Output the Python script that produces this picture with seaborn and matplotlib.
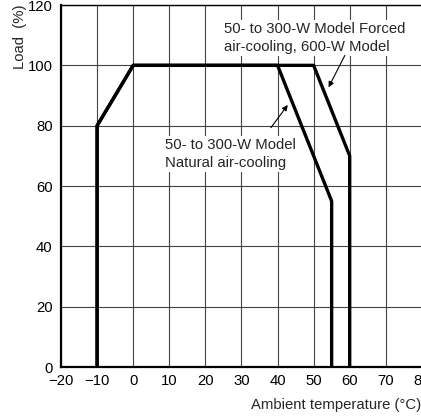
import matplotlib
matplotlib.use("Agg")
import matplotlib.pyplot as plt
import pandas as pd
import seaborn as sns

# Derating curves
natural_temp = [-10, -10, 0, 40, 55, 55]
natural_load = [0, 80, 100, 100, 55, 0]
forced_temp = [-10, -10, 0, 50, 60, 60]
forced_load = [0, 80, 100, 100, 70, 0]

x_ticks = [-20, -10, 0, 10, 20, 30, 40, 50, 60, 70, 80]
y_ticks = [0, 20, 40, 60, 80, 100, 120]

df = pd.concat(
    [
        pd.DataFrame({"temp": natural_temp, "load": natural_load, "mode": "natural"}),
        pd.DataFrame({"temp": forced_temp, "load": forced_load, "mode": "forced"}),
    ],
    ignore_index=True,
)

sns.set_style("white")
plt.rcParams["font.family"] = ["Liberation Sans", "DejaVu Sans"]
fs = 10.7

fig = plt.figure(figsize=(4.21, 4.18), dpi=100)
ax = fig.add_axes([0.145, 0.122, 0.857, 0.866])

ax.set_xlim(-20, 80)
ax.set_ylim(0, 120)
ax.set_xticks(x_ticks)
ax.set_yticks(y_ticks)
ax.grid(True, color="#444444", linewidth=0.8)
ax.set_axisbelow(True)

for mode, sub in df.groupby("mode"):
    sns.lineplot(data=sub, x="temp", y="load", sort=False, estimator=None,
                 color="black", linewidth=2.4, ax=ax, legend=False)

ax.set_xlabel("")
ax.set_ylabel("")
ax.tick_params(axis="both", length=0, labelsize=fs, colors="black")
ax.tick_params(axis="x", pad=5)
ax.tick_params(axis="y", pad=6)

for side in ["left", "bottom"]:
    ax.spines[side].set_linewidth(1.6)
    ax.spines[side].set_color("black")
ax.spines["top"].set_linewidth(1.0)
ax.spines["top"].set_color("black")
ax.spines["right"].set_visible(False)

box = dict(boxstyle="square,pad=0.15", fc="white", ec="none")
ax.text(25.3, 109.1, "50- to 300-W Model Forced\nair-cooling, 600-W Model",
        fontsize=fs, ha="left", va="center", linespacing=1.3, bbox=box, zorder=4)
ax.text(8.7, 70.6, "50- to 300-W Model\nNatural air-cooling",
        fontsize=fs, ha="left", va="center", linespacing=1.3, bbox=box, zorder=4)

ax.annotate("", xy=(53.8, 91.9), xytext=(59.0, 104.1), zorder=5,
            arrowprops=dict(arrowstyle="-|>", color="black", lw=0.8,
                            mutation_scale=8))
ax.annotate("", xy=(43.3, 87.6), xytext=(37.7, 78.6), zorder=5,
            arrowprops=dict(arrowstyle="-|>", color="black", lw=0.8,
                            mutation_scale=8))

fig.text(20 / 421, 1 - 37 / 418, "Load  (%)", rotation=90, ha="center",
         va="center", fontsize=fs)
fig.text(1.0, 1 - 405 / 418, "Ambient temperature (°C)", ha="right",
         va="center", fontsize=fs)

fig.savefig("out.png", dpi=100)
